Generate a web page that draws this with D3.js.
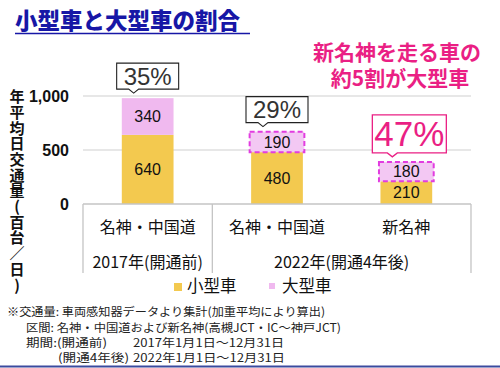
<!DOCTYPE html>
<html>
<head>
<meta charset="utf-8">
<script src="https://cdn.jsdelivr.net/npm/d3@7"></script>
<style>
  html, body { margin: 0; padding: 0; background: #fff; }
  svg { display: block; font-family: "Noto Sans CJK JP", "Noto Sans", sans-serif; }
</style>
</head>
<body>
<svg id="chart" width="500" height="368"></svg>
<script>
const roads   = ["名神・中国道", "名神・中国道", "新名神"];
const small   = [640, 480, 210];
const large   = [340, 190, 180];
const shares  = ["35%", "29%", "47%"];
const periods = ["2017年(開通前)", "2022年(開通4年後)"];
const periodOf = [0, 1, 1];
const yTicks  = [0, 500, 1000];
const seriesNames = ["小型車", "大型車"];
const message = ["新名神を走る車の", "約5割が大型車"];

const W = 500, H = 368;
const ORANGE = "#f3c94f", PINK = "#f0b9ef", PINK2 = "#f3c8f3", HOT = "#ea1f84";

const svg = d3.select("#chart");

// title
svg.append("text")
  .attr("x", 15).attr("y", 29)
  .attr("fill", "#1717a6")
  .attr("font-size", 22.5).attr("font-weight", 900)
  .text("小型車と大型車の割合");
svg.append("line")
  .attr("x1", 15).attr("x2", 250).attr("y1", 33.5).attr("y2", 33.5)
  .attr("stroke", "#1717a6").attr("stroke-width", 1.5);

// highlight message
svg.append("g")
  .selectAll("text")
  .data(message)
  .join("text")
  .attr("x", (d, i) => i === 0 ? 397 : 400)
  .attr("y", (d, i) => i === 0 ? 60 : 86)
  .attr("text-anchor", "middle")
  .attr("fill", HOT)
  .attr("font-size", 21).attr("font-weight", 700)
  .text(d => d);

// scales
const x = d3.scaleBand()
  .domain(d3.range(roads.length))
  .range([83, 471])
  .paddingInner(0.6).paddingOuter(0.3);

const y = d3.scaleLinear().domain([0, 1000]).range([204, 96]);

// grid
svg.append("g")
  .selectAll("line")
  .data(yTicks.filter(d => d > 0))
  .join("line")
  .attr("x1", 83).attr("x2", 471)
  .attr("y1", d => y(d)).attr("y2", d => y(d))
  .attr("stroke", "#cfcfcf").attr("stroke-width", 1.2);

// y axis labels
const yAxis = svg.append("g")
  .attr("transform", "translate(69,0)")
  .call(d3.axisLeft(y).tickValues(yTicks).tickFormat(d3.format(",")).tickSize(0).tickPadding(0));
yAxis.select(".domain").remove();
yAxis.selectAll("text")
  .attr("font-family", "'Liberation Sans', Arial, sans-serif")
  .attr("font-size", 16).attr("font-weight", 700)
  .attr("fill", "#111");

// y title (vertical)
svg.append("text")
  .attr("x", 17).attr("y", 89)
  .attr("writing-mode", "vertical-rl")
  .style("text-orientation", "upright")
  .attr("font-size", 15).attr("font-weight", 700)
  .attr("letter-spacing", 0.7)
  .attr("fill", "#111")
  .text("年平均日交通量(百台／日)");

// bars
const bars = svg.append("g");
roads.forEach((r, i) => {
  const x0 = x(i), bw = x.bandwidth();
  bars.append("rect")
    .attr("x", x0).attr("width", bw)
    .attr("y", y(small[i])).attr("height", y(0) - y(small[i]))
    .attr("fill", ORANGE);
  const top = small[i] + large[i];
  const dashed = periodOf[i] === 1;
  bars.append("rect")
    .attr("x", dashed ? x0 - 1.5 : x0).attr("width", dashed ? bw + 3 : bw)
    .attr("y", y(top)).attr("height", y(small[i]) - y(top))
    .attr("fill", dashed ? PINK2 : PINK)
    .attr("stroke", dashed ? "#e23ce0" : "none")
    .attr("stroke-width", 2)
    .attr("stroke-dasharray", "5,3");
  const cx = x0 + bw / 2;
  bars.append("text")
    .attr("x", cx).attr("y", (y(0) + y(small[i])) / 2)
    .attr("dy", "0.36em").attr("text-anchor", "middle")
    .attr("font-family", "'Liberation Sans', Arial, sans-serif")
    .attr("font-size", 16).attr("fill", "#111")
    .text(small[i]);
  bars.append("text")
    .attr("x", cx).attr("y", (y(small[i]) + y(top)) / 2)
    .attr("dy", "0.36em").attr("text-anchor", "middle")
    .attr("font-family", "'Liberation Sans', Arial, sans-serif")
    .attr("font-size", 16).attr("fill", "#111")
    .text(large[i]);
});

// share callouts
roads.forEach((r, i) => {
  const cx = x(i) + x.bandwidth() / 2;
  const top = y(small[i] + large[i]);
  const hot = i === 2;
  const tipX = cx - 14, tipY = top - 5;
  const bh = hot ? 38 : 26;
  const bottom = tipY - 4;
  const left = cx - (hot ? 34 : 31), right = cx + (hot ? 40 : 31);
  const path = d3.path();
  path.moveTo(left, bottom - bh);
  path.lineTo(right, bottom - bh);
  path.lineTo(right, bottom);
  path.lineTo(tipX + 5, bottom);
  path.lineTo(tipX, tipY);
  path.lineTo(tipX - 5, bottom);
  path.lineTo(left, bottom);
  path.closePath();
  svg.append("path")
    .attr("d", path.toString())
    .attr("fill", "#fff")
    .attr("stroke", hot ? HOT : "#222")
    .attr("stroke-width", hot ? 1.3 : 1.1);
  svg.append("text")
    .attr("x", (left + right) / 2).attr("y", bottom - bh / 2)
    .attr("dy", "0.36em").attr("text-anchor", "middle")
    .attr("font-family", "'Liberation Sans Narrow', 'Liberation Sans', Arial, sans-serif")
    .attr("font-size", hot ? 35 : 24)
    .attr("fill", hot ? HOT : "#333")
    .text(shares[i]);
});

// category table
const grid = svg.append("g").attr("stroke", "#c4c4c4").attr("stroke-width", 1.3);
grid.append("line").attr("x1", 83).attr("x2", 471).attr("y1", 204).attr("y2", 204);
const step = x.step();
const edges = [83, 83 + step, 471];
edges.forEach(e => {
  grid.append("line").attr("x1", e).attr("x2", e).attr("y1", 204).attr("y2", 273);
});

svg.append("g")
  .selectAll("text")
  .data(roads)
  .join("text")
  .attr("x", (d, i) => x(i) + x.bandwidth() / 2)
  .attr("y", 233)
  .attr("text-anchor", "middle")
  .attr("font-size", 16).attr("fill", "#111")
  .text(d => d);

svg.append("g")
  .selectAll("text")
  .data(periods)
  .join("text")
  .attr("x", (d, p) => {
    const idx = d3.range(roads.length).filter(i => periodOf[i] === p);
    return (x(idx[0]) + x(idx[idx.length - 1]) + x.bandwidth()) / 2;
  })
  .attr("y", 268)
  .attr("text-anchor", "middle")
  .attr("font-size", 16).attr("fill", "#111")
  .text(d => d);

// legend
const legendColors = [ORANGE, PINK];
const legendX = [174, 269];
seriesNames.forEach((s, i) => {
  svg.append("rect")
    .attr("x", legendX[i]).attr("y", 283)
    .attr("width", i === 0 ? 8 : 6).attr("height", i === 0 ? 8 : 6)
    .attr("fill", legendColors[i]);
  svg.append("text")
    .attr("x", legendX[i] + 13).attr("y", 292)
    .attr("font-size", 16.5).attr("fill", "#111")
    .text(s);
});

// footnotes
const notes = [
  { x: 7,   y: 316, t: "※交通量: 車両感知器データより集計(加重平均により算出)", w: 318 },
  { x: 26,  y: 332, t: "区間: 名神・中国道および新名神(高槻JCT・IC〜神戸JCT)", w: 315 },
  { x: 26,  y: 347, t: "期間:(開通前)", w: 81 },
  { x: 133, y: 347, t: "2017年1月1日〜12月31日", w: 151 },
  { x: 58,  y: 362, t: "(開通4年後)", w: 71 },
  { x: 133, y: 362, t: "2022年1月1日〜12月31日", w: 152 }
];
svg.append("g")
  .selectAll("text")
  .data(notes)
  .join("text")
  .attr("x", d => d.x).attr("y", d => d.y)
  .attr("font-size", 11.5).attr("fill", "#222")
  .attr("textLength", d => d.w).attr("lengthAdjust", "spacingAndGlyphs")
  .text(d => d.t);

svg.append("line")
  .attr("x1", 0).attr("x2", W).attr("y1", 366.5).attr("y2", 366.5)
  .attr("stroke", "#3b4a9e").attr("stroke-width", 2);
</script>
</body>
</html>
